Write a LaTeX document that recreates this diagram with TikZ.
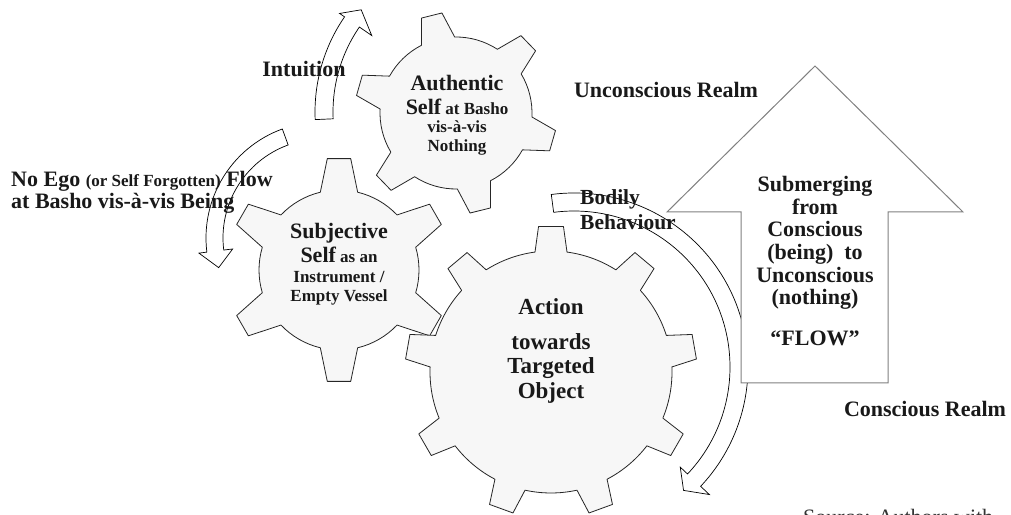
\documentclass[tikz,border=0pt]{standalone}
\usepackage{fontspec}
\setmainfont{Liberation Serif}
% gear: cx, cy, teeth, outer R, inner R, tip half-angle, base half-angle, first tooth angle
\newcommand{\mygear}[8]{%
  \begin{scope}[shift={(#1,#2)}]
  \filldraw[gearshape] ({#8-#7}:#5)
    \foreach \k in {1,...,#3}{
      -- ({#8+(\k-1)*360/#3-#6}:#4)
      -- ({#8+(\k-1)*360/#3+#6}:#4)
      -- ({#8+(\k-1)*360/#3+#7}:#5)
      arc[start angle={#8+(\k-1)*360/#3+#7}, end angle={#8+\k*360/#3-#7}, radius=#5]
    } -- cycle;
  \end{scope}}
% circular arrow: cx, cy, inner R, outer R, start angle, end angle, inner barb R, outer barb R, tip angle
\newcommand{\myarc}[9]{%
  \begin{scope}[shift={(#1,#2)}]
  \filldraw[circarrow] (#5:#4) arc[start angle=#5, end angle=#6, radius=#4]
    -- (#6:#8) -- ({#9}:{(#3+#4)/2}) -- (#6:#7) -- (#6:#3)
    arc[start angle=#6, end angle=#5, radius=#3] -- cycle;
  \end{scope}}
\begin{document}
\begin{tikzpicture}[x=1pt,y=1pt,
  gearshape/.style={draw=black!85, fill=black!3, line width=0.8pt, line join=round},
  circarrow/.style={draw=black, fill=white, line width=0.7pt, line join=miter},
  uparrow/.style={draw=black!50, fill=white, line width=1pt},
  lbl/.style={font=\bfseries\fontsize{22}{24}\selectfont, inner sep=0pt, text=black!90},
  small/.style={font=\bfseries\fontsize{17}{18.5}\selectfont, inner sep=0pt, text=black!90}]
\clip (0,0) rectangle (1011,514);
\fill[white] (0,0) rectangle (1011,514);

% gears
\mygear{456}{401}{6}{101}{76}{6}{13}{104}
\mygear{339}{244}{6}{112}{80}{6}{13.5}{90}
\mygear{551}{142}{9}{146}{121}{4.9}{7.6}{90}

% curved arrows
\myarc{483}{402}{150}{168}{182.6}{145.5}{135}{174}{140}
\myarc{322}{276}{99}{116}{110}{187}{90}{124}{196}
\myarc{574}{147}{156}{174}{97.5}{-43.3}{146}{186}{-48.4}

% up arrow
\filldraw[uparrow] (741,131) -- (888,131) -- (888,302) -- (963,302) -- (815,448)
  -- (667,302) -- (741,302) -- cycle;

% labels
\node[lbl] (unc) at (666,424) {Unconscious Realm};
\node[lbl] (con) at (925,105) {Conscious Realm};
\node[lbl] (intu) at (304,445) {Intuition};
\node[lbl, align=left, anchor=west, font=\bfseries\fontsize{22}{22}\selectfont] (noego) at (11,322)
  {No Ego {\fontsize{17}{18}\selectfont (or Self Forgotten)} Flow\\at Basho vis-à-vis Being};
\node[small, align=center] (auth) at (457,399)
  {{\fontsize{22}{24}\selectfont Authentic}\\[5pt]{\fontsize{22}{24}\selectfont Self} at Basho\\vis-à-vis\\Nothing};
\node[small, align=center] (subj) at (339,250)
  {{\fontsize{22}{24}\selectfont Subjective}\\[3pt]{\fontsize{22}{24}\selectfont Self} as an\\[2pt]Instrument /\\Empty Vessel};
\node[lbl, align=center, font=\bfseries\fontsize{23}{24.5}\selectfont] (act) at (551,163)
  {Action\\[10pt]towards\\Targeted\\Object};
\node[lbl, align=left, anchor=west, font=\bfseries\fontsize{21.5}{25}\selectfont] (body) at (580,304.5)
  {Bodily\\Behaviour};
\node[lbl, align=center, font=\bfseries\fontsize{22}{22.6}\selectfont] (flow) at (815,253)
  {Submerging\\from\\Conscious\\(being)~~to\\Unconscious\\(nothing)\\[18pt]“FLOW”};
\node[anchor=base west, inner sep=0pt, font=\fontsize{22}{24}\selectfont, text=black!80] (src) at (803,-10)
  {Source: Authors with};
\end{tikzpicture}
\end{document}
